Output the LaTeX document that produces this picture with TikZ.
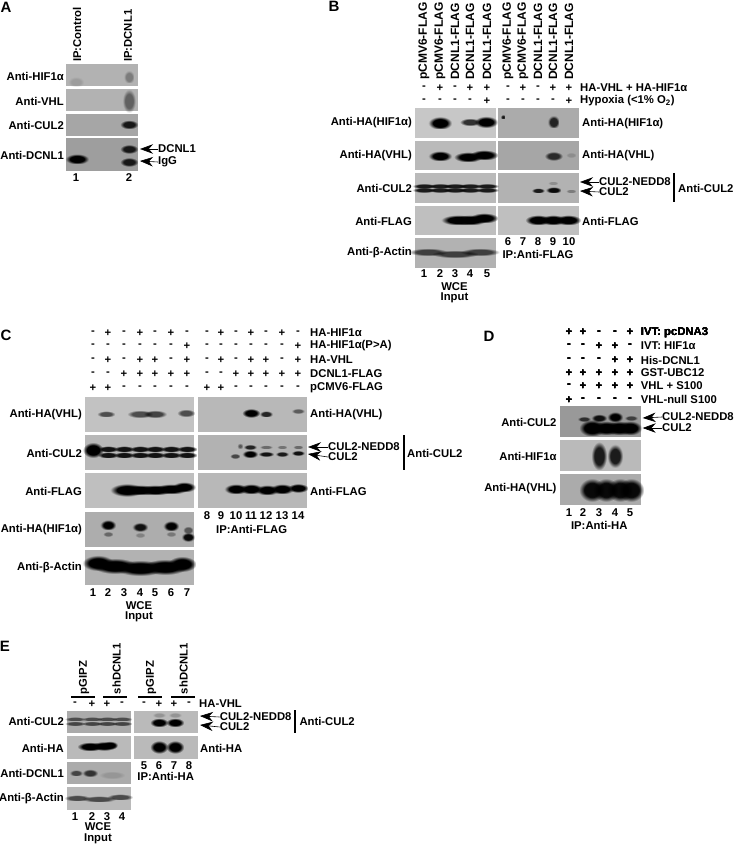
\documentclass[tikz,border=0pt]{standalone}
\usepackage{fontspec}
\setmainfont{Liberation Sans}
\usetikzlibrary{arrows.meta,fadings}
\pgfdeclareradialshading{bandshade}{\pgfpointorigin}{color(0bp)=(white); color(15bp)=(white); color(25bp)=(black); color(50bp)=(black)}
\pgfdeclarefading{bandfade}{\pgfuseshading{bandshade}}
\tikzset{
  lbl/.style={font=\fontsize{11.3}{12}\bfseries\selectfont, inner sep=0pt},
  lblr/.style={lbl, anchor=east},
  lbll/.style={lbl, anchor=west},
  lblrot/.style={lbl, rotate=90, anchor=west},
  letter/.style={font=\fontsize{15}{16}\bfseries\selectfont, inner sep=0pt},
  blotarrow/.style={-{Stealth[length=13pt,width=9.5pt]}, line width=0.6pt},
  sidebar/.style={line width=2.4pt},
  topbar/.style={line width=2.2pt}
}
% x y halfwidth halfheight darkness
\newcommand{\band}[5]{\fill[black, path fading=bandfade, fill opacity=#5] ({#1-1.3*#3},{#2-1.3*#4}) rectangle ({#1+1.3*#3},{#2+1.3*#4});}
% x1 y1 x2 y2 shade
\newcommand{\blot}[5]{\fill[black!#5] (#1,#2) rectangle (#3,#4);}
% name y list
\newcommand{\signrow}[3]{\foreach \x/\s [count=\i] in {#3} \node[lbl] (#1\i) at (\x,#2) {\s};}
\begin{document}
\begin{tikzpicture}[x=1pt,y=-1pt]
\useasboundingbox (0,0) rectangle (733,845);
% Panel A
\node[letter] (letA) at (6,7) {A};
\blot{66}{64}{138}{86.5}{30}
\blot{66}{89}{138}{111}{30}
\blot{66}{114}{138}{136}{35}
\blot{66}{138}{138}{171}{38}
\band{129}{77}{4}{5}{.3}
\band{76}{82}{6}{4}{.12}
\band{129}{101}{5}{9}{.45}
\band{129}{124.5}{7}{3.5}{.85}
\band{77}{159}{9}{4}{1}
\band{129}{149}{7}{3.5}{.85}
\band{129}{162}{7}{3.5}{.85}
\node[lblrot] (Actl) at (77,62) {IP:Control};
\node[lblrot] (Adcn) at (128,62) {IP:DCNL1};
\node[lblr] (Ahif) at (64,76) {Anti-HIF1α};
\node[lblr] (Avhl) at (64,101) {Anti-VHL};
\node[lblr] (Acul) at (64,125) {Anti-CUL2};
\node[lblr] (Adcnl) at (64,155) {Anti-DCNL1};
\node[lbl] (Anum1) at (76,178) {1};
\node[lbl] (Anum2) at (129,178) {2};
\node[lbll] (Aup) at (158,149) {DCNL1};
\node[lbll] (Aigg) at (158,162) {IgG};
\coordinate (Auptip) at (140,149);
\coordinate (Aiggtip) at (140,161);
\draw[blotarrow] (Aup.west) -- (Auptip);
\draw[blotarrow] (Aigg.west) -- (Aiggtip);
% Panel B
\node[letter] (letB) at (334,6) {B};
\blot{415}{108}{495.7}{138}{22}
\blot{498}{108}{579}{138}{33}
\blot{415}{141}{495.7}{170}{27}
\blot{498}{141}{579}{170}{35}
\blot{415}{173}{495.7}{203}{27}
\blot{498}{173}{579}{203}{30}
\blot{415}{206}{495.7}{235}{25}
\blot{498}{206}{579}{235}{25}
\blot{415}{238}{495.7}{268}{30}
\band{440}{123}{9}{5}{1}
\band{470}{122}{8}{3}{.75}
\band{486}{122}{9}{4.5}{1}
\band{503}{117}{1.5}{1.5}{.9}
\band{553.5}{122}{4.5}{5}{.8}
\band{440}{156}{9}{4}{1}
\band{468}{157}{11}{4}{1}
\band{484}{155}{11}{4}{1}
\band{553.5}{156}{7}{3.5}{.75}
\band{571}{155}{4}{2}{.15}
\foreach \x in {424,440,455,470,487} {
  \band{\x}{186}{9}{2}{.85}
  \band{\x}{190}{9}{2}{.85}
}
\band{538}{190.5}{5}{2}{.85}
\band{553.5}{190}{6}{2.5}{.95}
\band{553}{183}{4}{1.5}{.2}
\band{571}{191}{4}{1.5}{.3}
\band{458}{220}{13}{4}{1}
\band{470}{220}{13}{4}{1}
\band{484}{218}{11}{4}{1}
\band{538}{220}{10}{4}{1}
\band{553}{220}{10}{4}{1}
\band{568}{220}{10}{4}{1}
\band{428}{252}{15}{3}{.65}
\band{455}{254}{18}{3}{.65}
\band{480}{252}{15}{3}{.65}
\foreach \x/\t [count=\i] in {424/pCMV6-FLAG,440/pCMV6-FLAG,455/DCNL1-FLAG,470/DCNL1-FLAG,487/DCNL1-FLAG,508/pCMV6-FLAG,523/pCMV6-FLAG,538/DCNL1-FLAG,553/DCNL1-FLAG,569/DCNL1-FLAG}
  \node[lblrot, font=\fontsize{12}{13}\bfseries\selectfont] (Btop\i) at (\x,80) {\t};
\signrow{Bp}{88}{424/-,440/+,455/-,470/+,487/+,508/-,523/+,538/-,553/+,569/+}
\signrow{Bh}{101}{424/-,440/-,455/-,470/-,487/+,508/-,523/-,538/-,553/-,569/+}
\node[lbll] (Bvh) at (580,88) {HA-VHL + HA-HIF1α};
\node[lbll] (Bhyp) at (580,101) {Hypoxia (<1\% O\textsubscript{2})};
\node[lblr] (Bhif) at (412,123) {Anti-HA(HIF1α)};
\node[lblr] (Bvhl) at (412,156) {Anti-HA(VHL)};
\node[lblr] (Bcul) at (412,188) {Anti-CUL2};
\node[lblr] (Bflag) at (412,221) {Anti-FLAG};
\node[lblr] (Bact) at (412,253) {Anti-β-Actin};
\node[lbll] (Bhif2) at (582,124) {Anti-HA(HIF1α)};
\node[lbll] (Bvhl2) at (582,156) {Anti-HA(VHL)};
\node[lbll] (Bflag2) at (582,221) {Anti-FLAG};
\node[lbll] (Bnedd) at (599,182) {CUL2-NEDD8};
\node[lbll] (Bc2) at (599,192) {CUL2};
\coordinate (Bneddtip) at (580,182);
\coordinate (Bc2tip) at (580,191);
\draw[blotarrow] (Bnedd.west) -- (Bneddtip);
\draw[blotarrow] (Bc2.west) -- (Bc2tip);
\coordinate (Bbar1) at (674,173);
\coordinate (Bbar2) at (674,202);
\draw[sidebar] (Bbar1) -- (Bbar2);
\node[lbll] (Bcul2) at (678,188) {Anti-CUL2};
\foreach \x/\n in {424/1,440/2,455/3,470/4,487/5} \node[lbl] (Bnum\n) at (\x,274) {\n};
\foreach \x/\n in {508/6,523/7,538/8,553/9,569/10} \node[lbl] (Bnum\n) at (\x,242) {\n};
\node[lbl] (Bwce) at (454.5,287) {WCE};
\node[lbl] (Binp) at (454.5,298) {Input};
\node[lbl] (Bip) at (538,254) {IP:Anti-FLAG};
% Panel C
\node[letter] (letC) at (6,335) {C};
\blot{85}{396.7}{194}{431.7}{24}
\blot{197.7}{396.7}{307}{431.7}{28}
\blot{85}{435}{194}{470}{28}
\blot{197.7}{435}{307}{470}{30}
\blot{85}{473}{194}{508}{25}
\blot{197.7}{473}{307}{508}{28}
\blot{85}{511.7}{194}{546.7}{32}
\blot{85}{550}{194}{585}{30}
\band{106}{414}{7}{2.5}{.6}
\band{140}{414}{10}{3}{.6}
\band{155}{414}{9}{3}{.65}
\band{186}{413}{7}{3}{.6}
\band{93}{450}{8}{6}{1}
\foreach \x in {108,124,140,155,171,187} {
  \band{\x}{449}{8}{2.5}{.9}
  \band{\x}{455}{8}{2.5}{.9}
}
\band{127}{490}{13}{5}{1}
\band{140}{490}{13}{4}{1}
\band{155}{490}{13}{4}{1}
\band{171}{489}{13}{4}{1}
\band{184}{487}{9}{4}{1}
\band{98}{563}{12}{6}{1}
\band{115}{566}{17}{6}{1}
\band{140}{568}{19}{6}{1}
\band{165}{567}{17}{6}{1}
\band{182}{564}{11}{6}{1}
\band{108}{525}{6}{4}{1}
\band{108}{534}{4}{2}{.4}
\band{140}{527}{6}{3.5}{.9}
\band{140}{535}{4}{2}{.25}
\band{171}{526}{6}{4}{1}
\band{171}{534}{4}{2}{.3}
\band{188}{537}{5}{3.5}{.95}
\band{188}{530}{4}{3}{.5}
\band{251}{413}{7}{3.5}{1}
\band{266}{414}{5}{2.5}{.8}
\band{298}{411}{5}{2}{.5}
\band{235}{456}{4}{2}{.6}
\band{240}{446}{2}{2}{.5}
\band{250}{447}{5}{2}{.8}
\band{250}{454}{6}{3}{1}
\band{266}{447}{5}{1.5}{.4}
\band{266}{454}{6}{2}{.9}
\band{282}{447}{4}{1.5}{.35}
\band{282}{454}{5}{2}{.85}
\band{298}{447}{4}{1.5}{.4}
\band{298}{453}{5}{2}{.9}
\band{236}{489}{9}{4}{1}
\band{251}{489}{9}{4}{1}
\band{267}{490}{9}{4}{1}
\band{282}{489}{9}{4}{1}
\band{298}{488}{8}{3.5}{1}
\signrow{Ca}{332.7}{93/-,108/+,124/-,140/+,155/-,171/+,187/-,207/-,221/+,236/-,251/+,266/-,282/+,298/-}
\signrow{Cb}{346}{93/-,108/-,124/-,140/-,155/-,171/-,187/+,207/-,221/-,236/-,251/-,266/-,282/-,298/+}
\signrow{Cc}{360}{93/-,108/+,124/-,140/+,155/+,171/-,187/+,207/-,221/+,236/-,251/+,266/+,282/-,298/+}
\signrow{Cd}{374}{93/-,108/-,124/+,140/+,155/+,171/+,187/+,207/-,221/-,236/+,251/+,266/+,282/+,298/+}
\signrow{Ce}{388}{93/+,108/+,124/-,140/-,155/-,171/-,187/-,207/+,221/+,236/-,251/-,266/-,282/-,298/-}
\node[lbll] (Chif) at (310,332.7) {HA-HIF1α};
\node[lbll] (Cpa) at (310,346) {HA-HIF1α(P>A)};
\node[lbll] (Cvh) at (310,360) {HA-VHL};
\node[lbll] (Cdc) at (310,374) {DCNL1-FLAG};
\node[lbll] (Cpc) at (310,388) {pCMV6-FLAG};
\node[lblr] (Cvhl) at (82,415) {Anti-HA(VHL)};
\node[lblr] (Ccul) at (82,453) {Anti-CUL2};
\node[lblr] (Cflag) at (82,491) {Anti-FLAG};
\node[lblr] (Chif2) at (82,530) {Anti-HA(HIF1α)};
\node[lblr] (Cact) at (82,568) {Anti-β-Actin};
\node[lbll] (Cvhl2) at (310,415) {Anti-HA(VHL)};
\node[lbll] (Cflag2) at (310,491) {Anti-FLAG};
\node[lbll] (Cnedd) at (328,447) {CUL2-NEDD8};
\node[lbll] (Cc2) at (328,457) {CUL2};
\coordinate (Cneddtip) at (308,447);
\coordinate (Cc2tip) at (308,454);
\draw[blotarrow] (Cnedd.west) -- (Cneddtip);
\draw[blotarrow] (Cc2.west) -- (Cc2tip);
\coordinate (Cbar1) at (403.7,435);
\coordinate (Cbar2) at (403.7,470);
\draw[sidebar] (Cbar1) -- (Cbar2);
\node[lbll] (Ccul2) at (407,453) {Anti-CUL2};
\foreach \x/\n in {93/1,108/2,124/3,140/4,155/5,171/6,187/7} \node[lbl] (Cnum\n) at (\x,592.7) {\n};
\foreach \x/\n in {207/8,221/9,236/10,251/11,266/12,282/13,298/14} \node[lbl] (Cnum\n) at (\x,515.7) {\n};
\node[lbl] (Cwce) at (139,606) {WCE};
\node[lbl] (Cinp) at (139,617) {Input};
\node[lbl] (Cip) at (251.7,529) {IP:Anti-FLAG};
% Panel D
\node[letter] (letD) at (489,336) {D};
\blot{559.7}{406}{640.7}{437}{40}
\blot{559.7}{440}{640.7}{470.7}{27}
\blot{559.7}{474}{640.7}{505}{33}
\band{584}{419}{5}{2}{.7}
\band{599}{418}{6}{3}{.9}
\band{615}{417}{6}{4}{1}
\band{631}{418}{5}{2}{.6}
\band{592}{428}{10}{6.5}{1}
\band{606}{428}{11}{5.5}{1}
\band{619}{428}{11}{5.5}{1}
\band{630}{428}{9}{5.5}{1}
\band{599}{456}{6}{11}{.85}
\band{615}{456}{6}{9}{.85}
\foreach \x in {592,606,620,631} \band{\x}{490}{10}{9}{.95}
\signrow{Da}{332.6}{569/+,583/+,599/-,615/-,630/+}
\signrow{Db}{346}{569/-,583/-,599/+,615/+,630/-}
\signrow{Dc}{360}{569/-,583/-,599/-,615/+,630/+}
\signrow{Dd}{372.7}{569/+,583/+,599/+,615/+,630/+}
\signrow{De}{386}{569/-,583/+,599/+,615/+,630/+}
\signrow{Df}{399.7}{569/+,583/-,599/-,615/-,630/-}
\node[lbll] (Dpc) at (640.7,332.6) {IVT: pcDNA3};
\node[lbll] (Dhif) at (640.7,346) {IVT: HIF1α};
\node[lbll] (Dhis) at (640.7,360) {His-DCNL1};
\node[lbll] (Dgst) at (640.7,372.7) {GST-UBC12};
\node[lbll] (Dvhl) at (640.7,386) {VHL + S100};
\node[lbll] (Dnull) at (640.7,399.7) {VHL-null S100};
\node[lblr] (Dcul) at (556.7,422) {Anti-CUL2};
\node[lblr] (Dhif2) at (556.7,456) {Anti-HIF1α};
\node[lblr] (Dvhl2) at (556.7,489) {Anti-HA(VHL)};
\node[lbll] (Dnedd) at (662,417) {CUL2-NEDD8};
\node[lbll] (Dc2) at (662,428) {CUL2};
\coordinate (Dneddtip) at (642.7,418);
\coordinate (Dc2tip) at (642.7,428);
\draw[blotarrow] (Dnedd.west) -- (Dneddtip);
\draw[blotarrow] (Dc2.west) -- (Dc2tip);
\foreach \x/\n in {569/1,583/2,599/3,615/4,630/5} \node[lbl] (Dnum\n) at (\x,512.7) {\n};
\node[lbl] (Dip) at (599.3,525) {IP:Anti-HA};
% Panel E
\node[letter] (letE) at (5,646) {E};
\blot{67}{710.7}{131}{733}{33}
\blot{134}{710.7}{198}{733}{27}
\blot{67}{736}{131}{758.7}{27}
\blot{134}{736}{198}{758.7}{27}
\blot{67}{761.7}{131}{784}{33}
\blot{67}{787}{131}{809.7}{27}
\foreach \x in {75,92,107,122} {
  \band{\x}{719}{8}{1.8}{.55}
  \band{\x}{723.5}{8}{1.8}{.6}
}
\band{159}{722.5}{7}{3.5}{1}
\band{175}{722.5}{7}{3.5}{1}
\band{159}{715}{5}{2}{.2}
\band{175}{715}{5}{2}{.2}
\band{90}{746.5}{10}{3.5}{1}
\band{104}{746}{10}{3.5}{1}
\band{110}{745}{6}{3}{1}
\band{159}{747}{7}{5}{1}
\band{175}{747}{7}{5}{1}
\band{76}{773}{5}{2.5}{.6}
\band{90}{773}{6}{3}{.7}
\band{112}{775}{10}{3}{.12}
\band{77}{798}{10}{2.5}{.6}
\band{99}{799}{13}{2.5}{.6}
\band{120}{797}{10}{2.5}{.6}
\foreach \x/\t [count=\i] in {84/pGIPZ,116.7/shDCNL1,151/pGIPZ,183.7/shDCNL1}
  \node[lblrot] (Etop\i) at (\x,694.3) {\t};
\foreach \a/\b [count=\i] in {71/95,103.3/127.3,138.3/162.3,171/195} {
  \coordinate (Ebar\i a) at (\a,697.3);
  \coordinate (Ebar\i b) at (\b,697.3);
  \draw[topbar] (Ebar\i a) -- (Ebar\i b);
}
\signrow{Ep}{704}{75/-,92/+,107/+,122/-,144/-,159/+,174/+,189/-}
\node[lbll] (Evh) at (199,704) {HA-VHL};
\node[lblr] (Ecul) at (64,721) {Anti-CUL2};
\node[lblr] (Eha) at (64,748) {Anti-HA};
\node[lblr] (Edcn) at (64,773) {Anti-DCNL1};
\node[lblr] (Eact) at (64,799) {Anti-β-Actin};
\node[lbll] (Eha2) at (200,748) {Anti-HA};
\node[lbll] (Enedd) at (219.7,717) {CUL2-NEDD8};
\node[lbll] (Ec2) at (219.7,727) {CUL2};
\coordinate (Eneddtip) at (200,716);
\coordinate (Ec2tip) at (200,725);
\draw[blotarrow] (Enedd.west) -- (Eneddtip);
\draw[blotarrow] (Ec2.west) -- (Ec2tip);
\coordinate (Ebarv1) at (294.7,710);
\coordinate (Ebarv2) at (294.7,732.7);
\draw[sidebar] (Ebarv1) -- (Ebarv2);
\node[lbll] (Ecul2) at (299.3,721.7) {Anti-CUL2};
\foreach \x/\n in {75/1,92/2,107/3,122/4} \node[lbl] (Enum\n) at (\x,817) {\n};
\foreach \x/\n in {144/5,159/6,174/7,189/8} \node[lbl] (Enum\n) at (\x,765.7) {\n};
\node[lbl] (Ewce) at (98,827) {WCE};
\node[lbl] (Einp) at (98,839) {Input};
\node[lbl] (Eip) at (165.7,776.7) {IP:Anti-HA};
\end{tikzpicture}
\end{document}
